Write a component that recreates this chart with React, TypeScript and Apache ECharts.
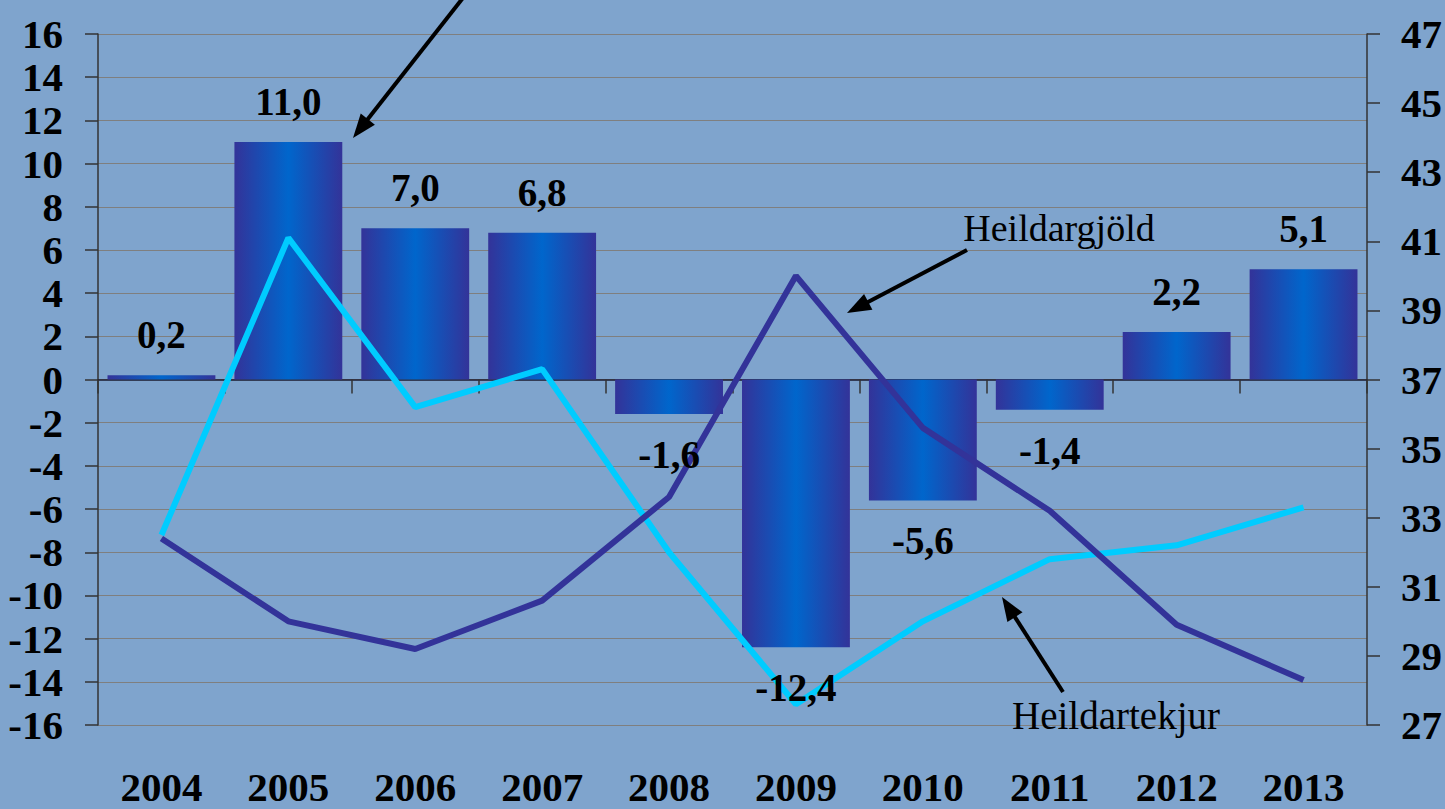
import React, { useEffect, useRef } from "react";
import * as echarts from "echarts";

const years = ["2004", "2005", "2006", "2007", "2008", "2009", "2010", "2011", "2012", "2013"];
// Balance (left axis)
const balance = [0.2, 11.0, 7.0, 6.8, -1.6, -12.4, -5.6, -1.4, 2.2, 5.1];
// Heildartekjur (right axis)
const revenue = [32.5, 41.1, 36.2, 37.3, 32.0, 27.6, 30.0, 31.8, 32.2, 33.3];
// Heildargjöld (right axis)
const expenditure = [32.4, 30.0, 29.2, 30.6, 33.6, 40.0, 35.6, 33.2, 29.9, 28.3];

const FONT = '"Liberation Serif", "Times New Roman", serif';

function arrow(x1: number, y1: number, x2: number, y2: number) {
  const dx = x2 - x1;
  const dy = y2 - y1;
  const len = Math.sqrt(dx * dx + dy * dy);
  const ux = dx / len;
  const uy = dy / len;
  const headLen = 24;
  const half = 9;
  const bx = x2 - ux * headLen;
  const by = y2 - uy * headLen;
  const px = -uy;
  const py = ux;
  return [
    {
      type: "line",
      shape: { x1, y1, x2: bx + ux * 4, y2: by + uy * 4 },
      style: { stroke: "#000", lineWidth: 4 },
      z: 100,
    },
    {
      type: "polygon",
      shape: {
        points: [
          [x2, y2],
          [bx + px * half, by + py * half],
          [bx - px * half, by - py * half],
        ],
      },
      style: { fill: "#000" },
      z: 100,
    },
  ];
}

export default function App() {
  const ref = useRef<HTMLDivElement>(null);

  useEffect(() => {
    if (!ref.current) return;
    const chart = echarts.init(ref.current, null, { renderer: "svg" });
    const fmt = (v: number) => v.toFixed(1).replace(".", ",");

    chart.setOption({
      animation: false,
      backgroundColor: "#7fa4cd",
      grid: { left: 98, right: 76, top: 34, bottom: 84 },
      xAxis: [
        {
          type: "category",
          data: years,
          position: "bottom",
          axisLine: { show: true, onZero: true, lineStyle: { color: "#1a1a2e", width: 1.5 } },
          axisTick: { show: true, length: 14, inside: false, lineStyle: { color: "#333", width: 1.5 } },
          axisLabel: { show: false },
          splitLine: { show: false },
        },
        {
          type: "category",
          data: years,
          position: "bottom",
          axisLine: { show: false, onZero: false },
          axisTick: { show: false },
          axisLabel: {
            show: true,
            margin: 41,
            color: "#000",
            fontFamily: FONT,
            fontWeight: "bold",
            fontSize: 41,
          },
          splitLine: { show: false },
        },
      ],
      yAxis: [
        {
          type: "value",
          min: -16,
          max: 16,
          interval: 2,
          position: "left",
          axisLine: { show: true, lineStyle: { color: "#333", width: 1.5 } },
          axisTick: { show: true, length: 13, inside: false, lineStyle: { color: "#333", width: 1.5 } },
          axisLabel: {
            margin: 35,
            color: "#000",
            fontFamily: FONT,
            fontWeight: "bold",
            fontSize: 41,
          },
          splitLine: { show: true, lineStyle: { color: "#7f7f7f", width: 1.2 } },
        },
        {
          type: "value",
          min: 27,
          max: 47,
          interval: 2,
          position: "right",
          axisLine: { show: true, lineStyle: { color: "#333", width: 1.5 } },
          axisTick: { show: true, length: 13, inside: false, lineStyle: { color: "#333", width: 1.5 } },
          axisLabel: {
            margin: 34,
            color: "#000",
            fontFamily: FONT,
            fontWeight: "bold",
            fontSize: 41,
          },
          splitLine: { show: false },
        },
      ],
      series: [
        {
          type: "bar",
          xAxisIndex: 0,
          yAxisIndex: 0,
          barCategoryGap: "15%",
          data: balance,
          itemStyle: {
            color: new echarts.graphic.LinearGradient(0, 0, 1, 0, [
              { offset: 0, color: "#333399" },
              { offset: 0.5, color: "#0066cc" },
              { offset: 1, color: "#333399" },
            ]),
          },
          z: 2,
        },
        {
          type: "line",
          name: "Heildartekjur",
          xAxisIndex: 0,
          yAxisIndex: 1,
          data: revenue,
          symbol: "none",
          lineStyle: { color: "#00ccff", width: 6 },
          z: 3,
        },
        {
          type: "line",
          name: "Heildargjöld",
          xAxisIndex: 0,
          yAxisIndex: 1,
          data: expenditure,
          symbol: "none",
          lineStyle: { color: "#333399", width: 6 },
          z: 3,
        },
        {
          type: "bar",
          xAxisIndex: 0,
          yAxisIndex: 0,
          barCategoryGap: "15%",
          barGap: "-100%",
          data: balance.map((v) => ({
            value: v,
            label: { position: v >= 0 ? "top" : "bottom" },
          })),
          itemStyle: { color: "rgba(0,0,0,0)" },
          label: {
            show: true,
            distance: 21,
            color: "#000",
            fontFamily: FONT,
            fontWeight: "bold",
            fontSize: 39,
            formatter: (p: any) => fmt(p.value),
          },
          z: 10,
        },
      ],
      graphic: [
        ...arrow(466, -6, 353, 138),
        ...arrow(967, 250, 847, 313),
        ...arrow(1063, 692, 1002, 597),
        {
          type: "text",
          x: 1059,
          y: 228,
          style: {
            text: "Heildargjöld",
            fontFamily: FONT,
            fontSize: 38,
            fill: "#000",
            align: "center",
            verticalAlign: "middle",
          },
          z: 100,
        },
        {
          type: "text",
          x: 1116,
          y: 715,
          style: {
            text: "Heildartekjur",
            fontFamily: FONT,
            fontSize: 39,
            fill: "#000",
            align: "center",
            verticalAlign: "middle",
          },
          z: 100,
        },
      ],
    });

    return () => {
      chart.dispose();
    };
  }, []);

  return (
    <div
      ref={ref}
      style={{ position: "fixed", left: 0, top: 0, width: 1445, height: 809 }}
    />
  );
}
